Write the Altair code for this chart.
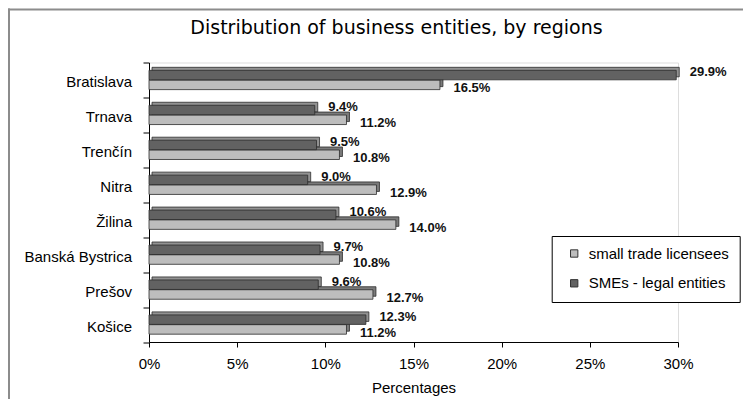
import altair as alt
import pandas as pd

regions = ["Bratislava", "Trnava", "Trenčín", "Nitra", "Žilina",
           "Banská Bystrica", "Prešov", "Košice"]
smes_legal = [29.9, 9.4, 9.5, 9.0, 10.6, 9.7, 9.6, 12.3]
trade_licensees = [16.5, 11.2, 10.8, 12.9, 14.0, 10.8, 12.7, 11.2]
series_names = ["small trade licensees", "SMEs - legal entities"]
x_ticks = [0, 5, 10, 15, 20, 25, 30]

rows = []
for r, s, l in zip(regions, smes_legal, trade_licensees):
    rows.append({"region": r, "series": series_names[1], "value": s, "label": f"{s:.1f}%"})
    rows.append({"region": r, "series": series_names[0], "value": l, "label": f"{l:.1f}%"})
df = pd.DataFrame(rows)

FONT = "Liberation Sans"
W, H = 529, 279.5
BAR_H = 9.5

xscale = alt.Scale(domain=[0, 30], nice=False, zero=True)
yscale = alt.Scale(domain=regions, paddingInner=0, paddingOuter=0)
cscale = alt.Scale(domain=series_names, range=["#bdbdbd", "#626262"])

xaxis = alt.Axis(values=x_ticks, labelExpr="datum.value + '%'", grid=False,
                 labelFlush=False,
                 title="Percentages", titleFont=FONT, titleFontSize=15,
                 titleFontWeight="normal", titleColor="black", titlePadding=9,
                 labelFont=FONT, labelFontSize=15, labelColor="black",
                 labelPadding=9.5, tickSize=5, tickColor="black",
                 domainColor="black")
yaxis = alt.Axis(title=None, tickBand="extent", labelFont=FONT, labelFontSize=15,
                 labelColor="black", labelPadding=11.5, tickSize=6,
                 tickColor="black", domainColor="black", labelOffset=2)
legend = alt.Legend(title=None, orient="none", legendX=402.7, legendY=173.5,
                    symbolType="square", symbolSize=54, symbolStrokeColor="#333",
                    symbolStrokeWidth=1, symbolOffset=5, labelOffset=7,
                    labelFont=FONT, labelFontSize=15, labelColor="black",
                    rowPadding=13.8, padding=10, strokeColor="black",
                    fillColor="white")

X = alt.X("value:Q", scale=xscale, axis=xaxis)
Y = alt.Y("region:N", scale=yscale, sort=regions, axis=yaxis)
C = alt.Color("series:N", scale=cscale, legend=legend)

base = alt.Chart(df)
dark = base.transform_filter(alt.datum.series == series_names[1])
light = base.transform_filter(alt.datum.series == series_names[0])

def bar_layers(src, yoff, back_fill):
    back = src.mark_bar(height=BAR_H, xOffset=3, yOffset=yoff - 3, fill=back_fill,
                        stroke="#2b2b2b", strokeWidth=0.8).encode(x=X, y=Y)
    front = src.mark_bar(height=BAR_H, yOffset=yoff, stroke="#2b2b2b",
                         strokeWidth=0.8).encode(x=X, y=Y, color=C)
    return [back, front]

light_layers = bar_layers(light, 4.9, "#7a7a7a")
dark_layers = bar_layers(dark, -4.9, "#929292")

dark_lbl = dark.mark_text(align="left", baseline="middle", dx=13.5, dy=-7.5,
                          font=FONT, fontSize=13, fontWeight="bold",
                          color="#111").encode(x=X, y=Y, text="label:N")
light_lbl = light.mark_text(align="left", baseline="middle", dx=13.5, dy=8,
                            font=FONT, fontSize=13, fontWeight="bold",
                            color="#111").encode(x=X, y=Y, text="label:N")

one = alt.Chart(alt.Data(values=[{"k": 1}]))
frame_top = one.mark_rule(color="#8c8c8c", strokeWidth=2).encode(
    x=alt.value(-141), x2=alt.value(594), y=alt.value(-53))
frame_left = one.mark_rule(color="#8c8c8c", strokeWidth=2).encode(
    x=alt.value(-140), y=alt.value(-54), y2=alt.value(337))

chart = alt.layer(
    *light_layers, *dark_layers, dark_lbl, light_lbl, frame_top, frame_left
).properties(
    width=W, height=H,
    title=alt.TitleParams("Distribution of business entities, by regions",
                          font="DejaVu Sans", fontSize=19, fontWeight="normal",
                          color="black", anchor="middle", frame="group",
                          dx=-17, dy=30, offset=0),
    autosize=alt.AutoSizeParams(type="none"),
    padding={"left": 141, "top": 54.5, "right": 65, "bottom": 57},
).configure_view(stroke=None).configure(background="white")

chart.save("out.html", embed_options={"renderer": "svg", "actions": False})
